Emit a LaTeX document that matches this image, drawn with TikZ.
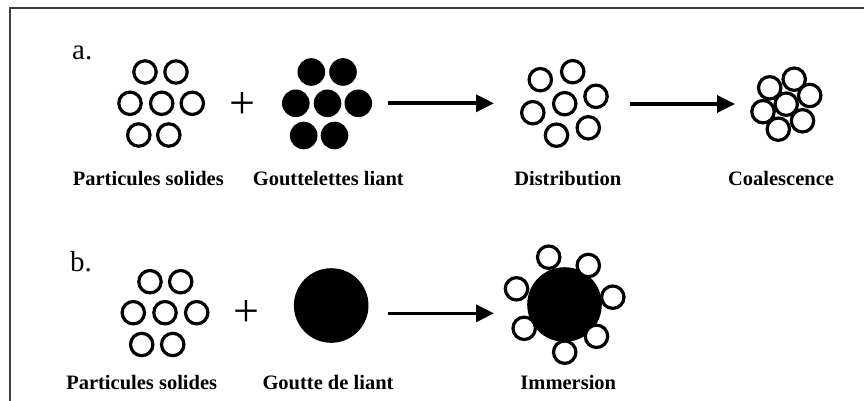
\documentclass[tikz,border=0pt]{standalone}
\usepackage{fontspec}
\setmainfont{Liberation Serif}
\usetikzlibrary{arrows.meta}
\begin{document}
\begin{tikzpicture}[x=1pt,y=-1pt,
  ring/.style={circle,draw=black,line width=3.2pt,minimum size=22.4pt,inner sep=0pt,fill=white},
  blob/.style={circle,fill=black,minimum size=27.6pt,inner sep=0pt},
  bigblob/.style={circle,fill=black,minimum size=74.6pt,inner sep=0pt},
  lbl/.style={font=\bfseries\fontsize{20.5}{22}\selectfont,anchor=base,inner sep=0pt},
  tag/.style={font=\fontsize{29}{30}\selectfont,anchor=base west,inner sep=0pt},
  plus/.style={font=\fontsize{46}{46}\selectfont,anchor=base,inner sep=0pt},
  arr/.style={line width=3.6pt,-{Triangle[length=18pt,width=17pt]}},
  frame/.style={line width=1.8pt,draw=black!75}]
\useasboundingbox (0,0) rectangle (864,401);
% frame
\coordinate (fA) at (10,401);
\coordinate (fB) at (10,8);
\coordinate (fC) at (864,8);
\draw[frame] (fA) -- (fB) -- (fC);
% tags
\node[tag] (ta) at (72,60) {a.};
\node[tag] (tb) at (70,271) {b.};
% a: solid particles
\node[ring] (a1) at (145,72) {};
\node[ring] (a2) at (176,72) {};
\node[ring] (a3) at (130,103.3) {};
\node[ring] (a4) at (161.7,103.3) {};
\node[ring] (a5) at (192.3,103.3) {};
\node[ring] (a6) at (138.8,135) {};
\node[ring] (a7) at (168.8,135) {};
\node[plus] (pa) at (242.7,118) {+};
% a: binder droplets
\node[blob] (d1) at (311.3,72) {};
\node[blob] (d2) at (343,72) {};
\node[blob] (d3) at (295.8,103.3) {};
\node[blob] (d4) at (327.5,103.3) {};
\node[blob] (d5) at (358.3,103.3) {};
\node[blob] (d6) at (303.7,135.5) {};
\node[blob] (d7) at (334.5,135.5) {};
% a: distribution
\node[ring] (s1) at (540.3,79.7) {};
\node[ring] (s2) at (572.7,71.7) {};
\node[ring] (s3) at (596,96.3) {};
\node[ring] (s4) at (532.8,112.7) {};
\node[ring] (s5) at (564.7,103.7) {};
\node[ring] (s6) at (588.3,127.8) {};
\node[ring] (s7) at (556.5,135.2) {};
% a: coalescence
\tikzset{cring/.style={ring,fill=none}}
\node[cring] (c2) at (794.2,79.2) {};
\node[cring] (c3) at (769.7,87.8) {};
\node[cring] (c4) at (809.7,95.5) {};
\node[cring] (c5) at (763,111.7) {};
\node[cring] (c6) at (802.5,120.8) {};
\node[cring] (c7) at (778.3,129.2) {};
\node[cring] (c1) at (786.2,104.2) {};
% a arrows
\coordinate (ar1s) at (388,103.3);
\coordinate (ar1e) at (494,103.3);
\coordinate (ar2s) at (630,104);
\coordinate (ar2e) at (735,104);
\draw[arr] (ar1s) -- (ar1e);
\draw[arr] (ar2s) -- (ar2e);
% a labels
\node[lbl] (la1) at (148.3,185) {Particules solides};
\node[lbl] (la2) at (328.3,185) {Gouttelettes liant};
\node[lbl] (la3) at (567.8,185) {Distribution};
\node[lbl] (la4) at (781,185) {Coalescence};
% b: solid particles
\node[ring] (b1) at (150,281.7) {};
\node[ring] (b2) at (180.7,281.7) {};
\node[ring] (b3) at (133.3,312.7) {};
\node[ring] (b4) at (165,312.7) {};
\node[ring] (b5) at (196.7,312.7) {};
\node[ring] (b6) at (141.7,344.5) {};
\node[ring] (b7) at (172.7,344.5) {};
\node[plus] (pb) at (246.2,326.4) {+};
% b: binder drop
\node[bigblob] (g) at (331.2,305.5) {};
% b arrow
\coordinate (br1s) at (388,313.3);
\coordinate (br1e) at (494,313.3);
\draw[arr] (br1s) -- (br1e);
% b: immersion
\node[bigblob] (im) at (564.5,304.5) {};
\node[ring] (i1) at (548.7,257.2) {};
\node[ring] (i2) at (588.3,265.5) {};
\node[ring] (i3) at (612.8,297.2) {};
\node[ring] (i4) at (596.5,336.3) {};
\node[ring] (i5) at (564.7,352.2) {};
\node[ring] (i6) at (524.2,328.3) {};
\node[ring] (i7) at (516.5,288.8) {};
% b labels
\node[lbl] (lb1) at (141.7,389) {Particules solides};
\node[lbl] (lb2) at (328,389) {Goutte de liant};
\node[lbl] (lb3) at (568.3,389) {Immersion};
\end{tikzpicture}
\end{document}
